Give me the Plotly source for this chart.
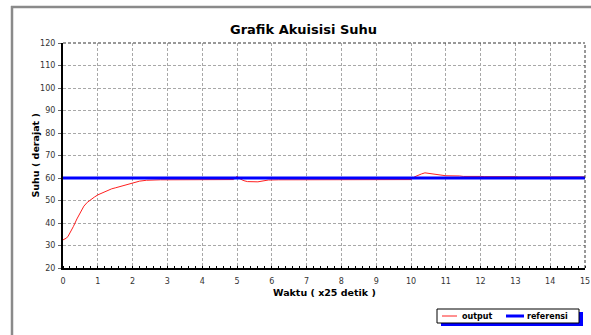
import plotly.graph_objects as go

# ---- data ----
waktu = [0, 0.05, 0.1, 0.15, 0.2, 0.3, 0.4, 0.5, 0.6, 0.7, 0.8, 0.9, 1.0, 1.1, 1.2,
         1.3, 1.4, 1.5, 1.6, 1.7, 1.8, 1.9, 2.0, 2.1, 2.2, 2.4, 2.6, 2.8, 3.0, 3.5,
         4.0, 4.5, 4.9, 5.0, 5.1, 5.2, 5.3, 5.6, 5.7, 5.9, 6.2, 6.5, 7.0, 7.5, 8.0,
         8.5, 9.0, 9.5, 10.0, 10.1, 10.2, 10.3, 10.4, 10.5, 10.6, 10.7, 10.8, 11.0, 11.4, 11.5,
         12.0, 12.1, 13.0, 13.1, 14.0, 15.0]
output = [32.5, 32.8, 33.3, 34.2, 35.5, 38.5, 41.8, 44.8, 47.5, 49.2, 50.5, 51.5, 52.5, 53.2, 54.0,
          54.6, 55.2, 55.6, 56.0, 56.6, 57.0, 57.4, 57.6, 58.3, 58.6, 59.0, 59.2, 59.2, 59.2, 59.2,
          59.3, 59.2, 59.3, 60.7, 59.5, 58.8, 58.4, 58.3, 58.6, 59.1, 59.2, 59.2, 59.3, 59.2, 59.2,
          59.3, 59.2, 59.2, 59.3, 60.5, 61.3, 61.8, 62.3, 62.1, 61.9, 61.7, 61.2, 61.0, 60.9, 60.7,
          60.7, 60.6, 60.6, 60.5, 60.5, 60.5]
ref_x = [0, 15]
referensi = [60, 60]

x_ticks = list(range(0, 16))
y_ticks = list(range(20, 121, 10))
series_names = ["output", "referensi"]
series_colors = ["#ff2020", "#0000ff"]

# ---- layout geometry (pixels) ----
W, H = 591, 335
L, R, T, B = 63, 585, 43, 268
pw, ph = R - L, B - T


def px(x):
    return (x - L) / pw


def py(y):
    return (B - y) / ph


fig = go.Figure()
fig.add_trace(go.Scatter(x=waktu, y=output, mode="lines", name=series_names[0],
                         line=dict(color=series_colors[0], width=1), showlegend=False))
fig.add_trace(go.Scatter(x=ref_x, y=referensi, mode="lines", name=series_names[1],
                         line=dict(color=series_colors[1], width=3), showlegend=False))

tick_fam = "DejaVu Sans, Verdana, sans-serif"
bold_fam = "DejaVu Sans, Verdana, sans-serif"

fig.update_layout(
    width=W, height=H,
    margin=dict(l=L, r=W - R, t=T, b=H - B, autoexpand=False),
    paper_bgcolor="white", plot_bgcolor="white",
    font=dict(family=tick_fam, size=8, color="#333"),
    showlegend=False,
    xaxis=dict(range=[0, 15], tickvals=x_ticks, ticktext=[str(v) for v in x_ticks],
               showgrid=True, gridcolor="#a8a8a8", griddash="3px,2px", gridwidth=1,
               showline=True, linecolor="#000", linewidth=2, zeroline=False,
               ticks="", tickfont=dict(size=8, color="#333", family=tick_fam), ticklabelstandoff=4,
               minor=dict(dtick=0.2, ticks="inside", ticklen=2, tickcolor="#000", showgrid=False),
               fixedrange=True),
    yaxis=dict(range=[20, 120], tickvals=y_ticks, ticktext=[str(v) for v in y_ticks],
               showgrid=True, gridcolor="#a8a8a8", griddash="3px,2px", gridwidth=1,
               showline=True, linecolor="#000", linewidth=2, zeroline=False,
               ticks="outside", ticklen=3, tickcolor="#666", tickwidth=1,
               tickfont=dict(size=8, color="#333", family=tick_fam), ticklabelstandoff=1,
               fixedrange=True),
)

shapes = [
    # dashed plot border top/right
    dict(type="line", xref="paper", yref="paper", x0=0, x1=1, y0=1, y1=1,
         line=dict(color="#333", width=1, dash="3px,2px")),
    dict(type="line", xref="paper", yref="paper", x0=1, x1=1, y0=0, y1=1,
         line=dict(color="#333", width=1, dash="3px,2px")),
    # outer gray frame
    dict(type="line", xref="paper", yref="paper", x0=px(11), x1=px(W + 5), y0=py(7), y1=py(7),
         line=dict(color="#8a8a8a", width=2.5)),
    dict(type="line", xref="paper", yref="paper", x0=px(12), x1=px(12), y0=py(6), y1=py(H + 5),
         line=dict(color="#8a8a8a", width=2.5)),
    # legend shadow + box
    dict(type="rect", xref="paper", yref="paper", x0=px(441), x1=px(583), y0=py(326), y1=py(312),
         fillcolor="#0000ff", line=dict(width=0)),
    dict(type="rect", xref="paper", yref="paper", x0=px(437), x1=px(579), y0=py(323), y1=py(309),
         fillcolor="white", line=dict(color="#000", width=1)),
    # legend samples
    dict(type="line", xref="paper", yref="paper", x0=px(442), x1=px(457), y0=py(316), y1=py(316),
         line=dict(color=series_colors[0], width=1)),
    dict(type="line", xref="paper", yref="paper", x0=px(506), x1=px(524), y0=py(316), y1=py(316),
         line=dict(color=series_colors[1], width=3)),
]
fig.update_layout(shapes=shapes)

fig.add_annotation(text="<b>" + series_names[0] + "</b>", xref="paper", yref="paper",
                   x=px(460), y=py(316), xanchor="left", yanchor="middle", showarrow=False,
                   font=dict(size=8, color="#000", family=bold_fam))
fig.add_annotation(text="<b>" + series_names[1] + "</b>", xref="paper", yref="paper",
                   x=px(525), y=py(316), xanchor="left", yanchor="middle", showarrow=False,
                   font=dict(size=8, color="#000", family=bold_fam))

fig.add_annotation(text="<b>Grafik Akuisisi Suhu</b>", xref="paper", yref="paper",
                   x=px(303), y=py(29), xanchor="center", yanchor="middle", showarrow=False,
                   font=dict(size=13, color="#000", family=bold_fam))
fig.add_annotation(text="<b>Waktu ( x25 detik )</b>", xref="paper", yref="paper",
                   x=px(324), y=py(292), xanchor="center", yanchor="middle", showarrow=False,
                   font=dict(size=9.5, color="#000", family=bold_fam))
fig.add_annotation(text="<b>Suhu ( derajat )</b>", xref="paper", yref="paper",
                   x=px(35), y=py(155.5), xanchor="center", yanchor="middle", showarrow=False,
                   textangle=-90, font=dict(size=9.5, color="#000", family=bold_fam))

fig.write_html("out.html", config={"displayModeBar": False},
               post_script="document.body.style.margin='0px';document.body.style.padding='0px';")
